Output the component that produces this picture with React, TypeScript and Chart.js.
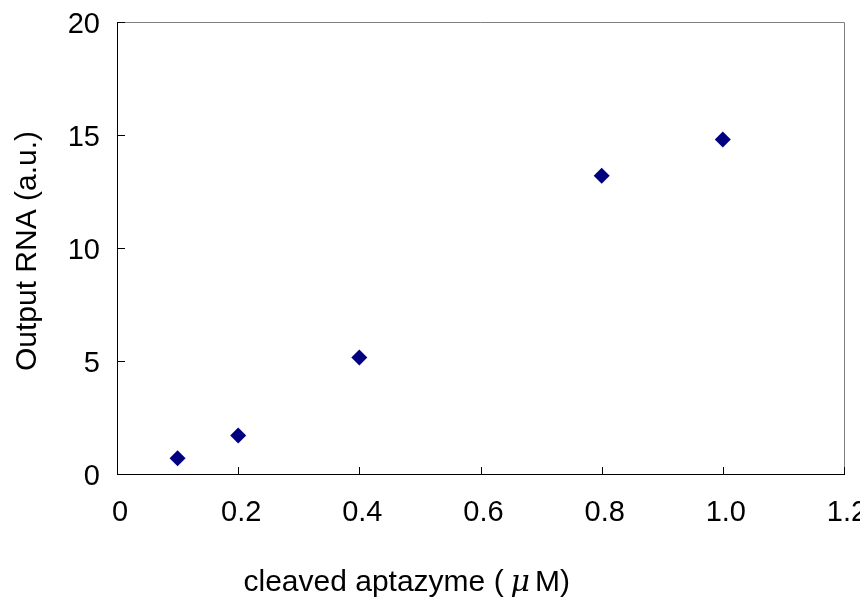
import React, { useEffect, useRef } from "react";
import { Chart, registerables } from "chart.js";

Chart.register(...registerables);

const concentrations = [0.1, 0.2, 0.4, 0.8, 1.0];
const outputRNA = [0.7, 1.7, 5.15, 13.2, 14.8];
const xTitle = ["cleaved aptazyme (", "\u03bc", "M)"];
const yTitle = "Output RNA (a.u.)";

const FONT = "'Liberation Sans', Arial, sans-serif";

const decorPlugin = {
  id: "decor",
  afterDraw(chart: any) {
    const { ctx, chartArea } = chart;
    const xs = chart.scales.x;
    const ys = chart.scales.y;
    ctx.save();
    // top & right frame (gray)
    ctx.strokeStyle = "#808080";
    ctx.lineWidth = 1;
    ctx.beginPath();
    ctx.moveTo(chartArea.left, chartArea.top + 0.5);
    ctx.lineTo(chartArea.right + 0.5, chartArea.top + 0.5);
    ctx.lineTo(chartArea.right + 0.5, chartArea.bottom);
    ctx.stroke();
    // inward tick marks
    ctx.strokeStyle = "#000000";
    ctx.beginPath();
    xs.ticks.forEach((t: any) => {
      const px = Math.round(xs.getPixelForValue(t.value)) + 0.5;
      ctx.moveTo(px, chartArea.bottom);
      ctx.lineTo(px, chartArea.bottom - 7);
    });
    ys.ticks.forEach((t: any) => {
      const py = Math.round(ys.getPixelForValue(t.value)) + 0.5;
      ctx.moveTo(chartArea.left, py);
      ctx.lineTo(chartArea.left + 8, py);
    });
    ctx.stroke();
    // y title
    ctx.fillStyle = "#000000";
    ctx.font = `30px ${FONT}`;
    ctx.textAlign = "center";
    ctx.textBaseline = "middle";
    ctx.translate(28, (chartArea.top + chartArea.bottom) / 2 + 3);
    ctx.rotate(-Math.PI / 2);
    ctx.fillText(yTitle, 0, 0);
    ctx.restore();
    // x title
    ctx.save();
    ctx.fillStyle = "#000000";
    ctx.textAlign = "left";
    ctx.textBaseline = "alphabetic";
    const baseY = 591;
    let x = chartArea.left + 0.174 * (chartArea.right - chartArea.left);
    ctx.font = `30px ${FONT}`;
    ctx.fillText(xTitle[0], x, baseY);
    x += ctx.measureText(xTitle[0]).width + 7;
    ctx.font = `italic 30px 'DejaVu Serif', serif`;
    ctx.fillText(xTitle[1], x, baseY);
    x += ctx.measureText(xTitle[1]).width + 5;
    ctx.font = `30px ${FONT}`;
    ctx.fillText(xTitle[2], x, baseY);
    ctx.restore();
  },
};

export default function App() {
  const ref = useRef<HTMLCanvasElement>(null);
  useEffect(() => {
    document.body.style.margin = "0";
    const chart = new Chart(ref.current as HTMLCanvasElement, {
      type: "scatter",
      data: {
        datasets: [
          {
            data: concentrations.map((c, i) => ({ x: c, y: outputRNA[i] })),
            pointStyle: "rectRot",
            pointRadius: 8,
            pointBorderWidth: 0,
            backgroundColor: "#000080",
            borderColor: "#000080",
          },
        ],
      },
      options: {
        responsive: false,
        animation: false,
        layout: { padding: { top: 22, right: 16, left: 0, bottom: 0 } },
        plugins: { legend: { display: false }, tooltip: { enabled: false } },
        scales: {
          x: {
            type: "linear",
            min: 0,
            max: 1.2,
            afterFit: (s: any) => {
              s.height = 124;
              s.paddingLeft = 0;
              s.paddingRight = 0;
            },
            ticks: {
              stepSize: 0.2,
              padding: 22,
              labelOffset: 3,
              color: "#000000",
              font: { family: FONT, size: 29 },
              maxRotation: 0,
              callback: (v: any) => (v === 0 ? "0" : Number(v).toFixed(1)),
            },
            grid: { drawOnChartArea: false, drawTicks: false },
            border: { display: true, color: "#000000", width: 1 },
          },
          y: {
            min: 0,
            max: 20,
            afterFit: (s: any) => {
              s.width = 117;
              s.paddingTop = 0;
              s.paddingBottom = 0;
            },
            ticks: {
              stepSize: 5,
              padding: 17,
              labelOffset: 3,
              color: "#000000",
              font: { family: FONT, size: 29 },
            },
            grid: { drawOnChartArea: false, drawTicks: false },
            border: { display: true, color: "#000000", width: 1 },
          },
        },
      },
      plugins: [decorPlugin],
    });
    return () => chart.destroy();
  }, []);
  return (
    <div style={{ width: 860, height: 598, background: "#fff" }}>
      <canvas ref={ref} width={860} height={598} style={{ display: "block" }} />
    </div>
  );
}
